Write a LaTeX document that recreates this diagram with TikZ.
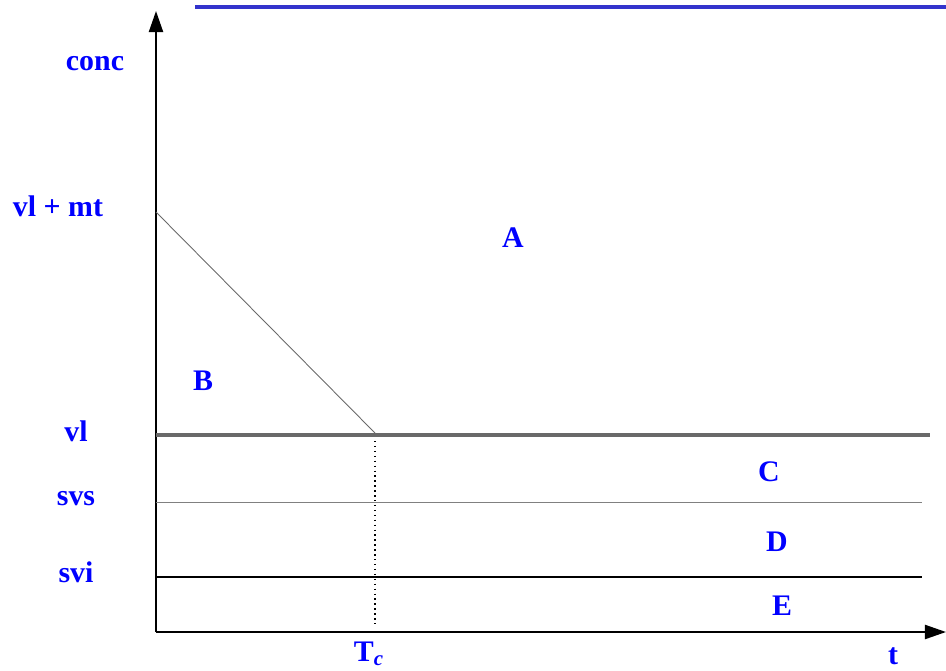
\documentclass[tikz,border=0pt]{standalone}
\usepackage{fontspec}
\setmainfont{Liberation Serif}
\usepackage{xcolor}
\usetikzlibrary{arrows.meta}

\definecolor{lblblue}{RGB}{0,0,255}
\definecolor{titleblue}{RGB}{51,51,204}
\definecolor{limgray}{RGB}{105,105,105}

\tikzset{
  lbl/.style={text=lblblue, font=\fontsize{17}{20}\selectfont\bfseries, inner sep=0pt},
  axis/.style={line width=1.2pt, -{Triangle[length=12pt,width=8pt]}}
}

\begin{document}
\begin{tikzpicture}[x=0.02cm, y=-0.02cm]
  \useasboundingbox (0,0) rectangle (946,670);

  % title underline (text is cut off)
  \fill[titleblue] (195,4.5) rectangle (946,9);

  % axes
  \coordinate (O) at (156,632);
  \coordinate (Ytop) at (156,11);
  \coordinate (Xend) at (946,632);
  \draw[axis] (O) -- (Ytop);
  \draw[axis] (O) -- (Xend);

  % limits
  \coordinate (VM) at (156,212);
  \coordinate (TC) at (375,433);
  \coordinate (VLs) at (156,435);
  \coordinate (VLe) at (930,435);
  \coordinate (SVSs) at (156,502);
  \coordinate (SVSe) at (922,502);
  \coordinate (SVIs) at (156,577);
  \coordinate (SVIe) at (922,577);
  \coordinate (TCb) at (375,625);

  \draw[limgray, line width=0.5pt] (VM) -- (TC);
  \draw[limgray, line width=2.4pt] (VLs) -- (VLe);
  \draw[gray, line width=0.5pt] (SVSs) -- (SVSe);
  \draw[black, line width=0.9pt] (SVIs) -- (SVIe);
  \draw[black, line width=0.8pt, dotted] (375,441) -- (TCb);

  % axis labels
  \node[lbl] (conc) at (95,64) {conc};
  \node[lbl] (vlmt) at (58,206) {vl + mt};
  \node[lbl] (vl) at (76,431) {vl};
  \node[lbl] (svs) at (76,499) {svs};
  \node[lbl] (svi) at (76,572) {svi};
  \node[lbl] (tc) at (369,654) {T\textsubscript{\itshape c}};
  \node[lbl] (t) at (893,656) {t};

  % regions
  \node[lbl] (A) at (513,238) {A};
  \node[lbl] (B) at (203,381) {B};
  \node[lbl] (C) at (769,472) {C};
  \node[lbl] (D) at (777,542) {D};
  \node[lbl] (E) at (782,606) {E};
\end{tikzpicture}
\end{document}
